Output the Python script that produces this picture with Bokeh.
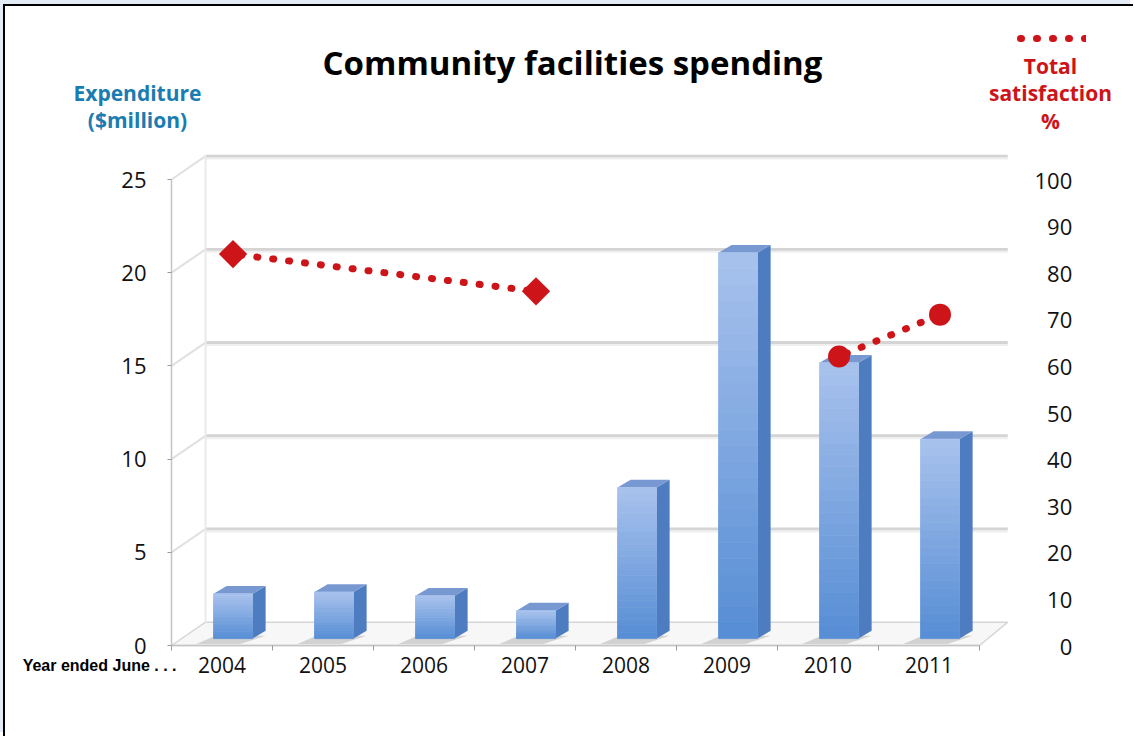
import math
from bokeh.plotting import figure
from bokeh.models import Range1d, LinearAxis, FixedTicker, Label, Legend, LegendItem
from bokeh.embed import file_html
from bokeh.resources import INLINE

# ---------------- data ----------------
years = ["2004", "2005", "2006", "2007", "2008", "2009", "2010", "2011"]
expenditure = [2.4, 2.5, 2.3, 1.5, 8.1, 20.7, 14.8, 10.7]          # $million
sat_years_a = ["2004", "2007"]                                      # diamond series
sat_values_a = [84, 76]
sat_years_b = ["2010", "2011"]                                      # circle series
sat_values_b = [62, 71]
left_ticks = [0, 5, 10, 15, 20, 25]
right_ticks = [0, 10, 20, 30, 40, 50, 60, 70, 80, 90, 100]

# ---------------- style ----------------
FONT = "Open Sans"
BLUE_TXT = "#1A7CB0"
RED = "#CC1419"
SIDE = "#4D7DC0"
TOPF = "#7898D2"
GRID = "#D4D4D4"
n = len(years)

# page geometry: category unit = 101 px, $1m = 18.64 px; origin at page (171, 645)
UX, UY, X0, Y0 = 101.0, 18.64, 171.0, 645.0
OFF_X, OFF_Y = 5, 6                      # canvas offset inside the page border
W, H = 1135 - OFF_X, 738 - OFF_Y
def fx(px): return (px - X0) / UX
def fy(py): return (Y0 - py) / UY

p = figure(width=W, height=H, output_backend="svg", toolbar_location=None,
           title=None,
           x_range=Range1d(fx(OFF_X), fx(1135)), y_range=Range1d(fy(738), fy(OFF_Y)),
           min_border_left=0, min_border_right=0, min_border_top=0, min_border_bottom=0)
p.outline_line_color = None
p.xgrid.visible = False
p.ygrid.visible = False
p.background_fill_color = "white"
p.border_fill_color = "white"
p.styles = {"margin-left": "3px", "margin-top": "4px",
            "border-left": "2px solid #000", "border-top": "2px solid #000",
            "box-shadow": "-3px -4px 0 0 #E3ECF6"}
p.extra_y_ranges = {"sat": Range1d(fy(738) * 4, fy(OFF_Y) * 4)}

# ---------------- 3D walls & floor ----------------
bl, br, bdy = 0.337, n + 0.28, 1.25
p.patch([0, n, br, bl], [0, 0, bdy, bdy], fill_color="#F7F7F7",
        line_color="#D6D6D6", line_width=1.5)
p.multi_line(xs=[[bl, br] for v in left_ticks[1:]],
             ys=[[v + bdy, v + bdy] for v in left_ticks[1:]],
             line_color=GRID, line_width=3)
p.multi_line(xs=[[bl, br] for v in left_ticks[1:]],
             ys=[[v + bdy - 0.13, v + bdy - 0.13] for v in left_ticks[1:]],
             line_color="#EFEFEF", line_width=2)
p.multi_line(xs=[[0, bl] for v in left_ticks[1:]],
             ys=[[v, v + bdy] for v in left_ticks[1:]],
             line_color="#E0E0E0", line_width=2)
p.line([bl, bl], [bdy, left_ticks[-1] + bdy], line_color="#EAEAEA", line_width=2)

# ---------------- bars ----------------
xc = [i + 0.5 for i in range(n)]
off_x, bw, base = 0.109, 0.386, 0.37
ddx, ddy = 0.13, 0.42
bx = [x + off_x for x in xc]
tops = [v + base for v in expenditure]

side_xs, side_ys, top_xs, top_ys, sh_xs, sh_ys = [], [], [], [], [], []
for x, t in zip(bx, tops):
    xl, xr = x - bw / 2, x + bw / 2
    side_xs.append([xr, xr + ddx, xr + ddx, xr])
    side_ys.append([base, base + ddy, t + ddy, t])
    top_xs.append([xl, xr, xr + ddx, xl + ddx])
    top_ys.append([t, t, t + ddy, t + ddy])
    sh_xs.append([xl - 0.17, xr - 0.12, xr + ddx, xl + 0.02])
    sh_ys.append([0.08, 0.08, base + 0.15, base + 0.15])

p.patches(sh_xs, sh_ys, fill_color="#8C8C8C", fill_alpha=0.35, line_color=None)
p.patches(side_xs, side_ys, fill_color=SIDE, line_color=None)
p.patches(top_xs, top_ys, fill_color=TOPF, line_color=None)

# front faces with a vertical light-to-deep gradient
K = 24
c_top, c_bot = (168, 194, 236), (86, 141, 213)
seg_x, seg_b, seg_t, seg_c = [], [], [], []
for x, v in zip(bx, expenditure):
    for k in range(K):
        f = (k + 0.5) / K
        seg_x.append(x)
        seg_b.append(base + v * k / K)
        seg_t.append(base + v * (k + 1) / K)
        c = tuple(int(round(c_bot[j] + (c_top[j] - c_bot[j]) * f)) for j in range(3))
        seg_c.append("#%02x%02x%02x" % c)
p.vbar(x=seg_x, width=bw, bottom=seg_b, top=seg_t, fill_color=seg_c,
       line_color=seg_c, line_width=0.8)

# ---------------- satisfaction series ----------------
xa = [xc[years.index(y)] + off_x for y in sat_years_a]
xb = [xc[years.index(y)] + off_x for y in sat_years_b]
r_line = p.line(xa, sat_values_a, y_range_name="sat", line_color=RED,
                line_width=7, line_dash="1 15", line_dash_offset=8, line_cap="round")
p.line(xb, sat_values_b, y_range_name="sat", line_color=RED,
       line_width=7, line_dash="1 15", line_dash_offset=8, line_cap="round")
p.scatter(xa, sat_values_a, y_range_name="sat", marker="square",
          angle=math.pi / 4, size=20, fill_color=RED, line_color=None)
p.scatter(xb, sat_values_b, y_range_name="sat", marker="circle",
          size=22, fill_color=RED, line_color=None)

# ---------------- axes (fixed at the chart's own positions) ----------------
xaxis = p.xaxis[0]
xaxis.fixed_location = 0
xaxis.ticker = FixedTicker(ticks=xc, minor_ticks=list(range(n + 1)))
xaxis.major_label_overrides = {x: y for x, y in zip(xc, years)}
xaxis.bounds = (0, n)
xaxis.axis_line_color = "#C4C4C4"
xaxis.axis_line_width = 1.5
xaxis.major_tick_out = 0
xaxis.major_tick_in = 0
xaxis.minor_tick_out = 5
xaxis.minor_tick_in = 0
xaxis.minor_tick_line_color = "#9A9A9A"
xaxis.major_label_standoff = 6
xaxis.major_label_text_font = FONT
xaxis.major_label_text_font_size = "21px"
xaxis.major_label_text_color = "#111111"

yaxis = p.yaxis[0]
yaxis.fixed_location = 0
yaxis.ticker = FixedTicker(ticks=left_ticks, minor_ticks=[])
yaxis.bounds = (0, left_ticks[-1])
yaxis.axis_line_color = "#C4C4C4"
yaxis.axis_line_width = 1.5
yaxis.major_tick_out = 4
yaxis.major_tick_in = 0
yaxis.major_tick_line_color = "#9A9A9A"
yaxis.minor_tick_line_color = None
yaxis.major_label_standoff = 21
yaxis.major_label_text_font = FONT
yaxis.major_label_text_font_size = "22px"
yaxis.major_label_text_color = "#111111"

def pad(t):
    s = str(t)
    return "\u2007" * (3 - len(s)) + s

raxis = LinearAxis(y_range_name="sat", fixed_location=fx(1010),
                   ticker=FixedTicker(ticks=right_ticks, minor_ticks=[]),
                   bounds=(0, 100),
                   major_label_overrides={t: pad(t) for t in right_ticks},
                   axis_line_color=None, major_tick_line_color=None,
                   minor_tick_line_color=None, major_tick_out=0, major_tick_in=0,
                   major_label_standoff=24, major_label_text_font=FONT,
                   major_label_text_font_size="22px",
                   major_label_text_color="#111111")
p.add_layout(raxis, "right")

# ---------------- texts ----------------
def lab(text, px, py, size, color, align="center", font=FONT):
    p.add_layout(Label(x=fx(px), y=fy(py), text=text, text_font=font,
                       text_font_size=size, text_font_style="bold",
                       text_color=color, text_align=align, text_baseline="middle"))

lab("Community facilities spending", 572, 62, "33px", "#000000")
lab("Expenditure", 137, 92, "21px", BLUE_TXT)
lab("($million)", 137, 119, "21px", BLUE_TXT)
lab("Total", 1050, 65, "21px", RED)
lab("satisfaction", 1050, 92, "21px", RED)
lab("%", 1050, 120, "21px", RED)
lab("Year ended June . . .", 176, 665, "16px", "#000000", align="right",
    font="Liberation Sans")

# legend swatch (dotted line) above the right-axis title
legend = Legend(items=[LegendItem(label=" ", renderers=[r_line])],
                location=(1012 - OFF_X, H - (38 - OFF_Y) - 10),
                glyph_width=74, glyph_height=20,
                label_height=20, label_width=0, label_standoff=0,
                label_text_font_size="8px", padding=0, spacing=0, margin=0,
                border_line_color=None, background_fill_alpha=0)
p.add_layout(legend)

open("out.html", "w").write(file_html(p, INLINE))
